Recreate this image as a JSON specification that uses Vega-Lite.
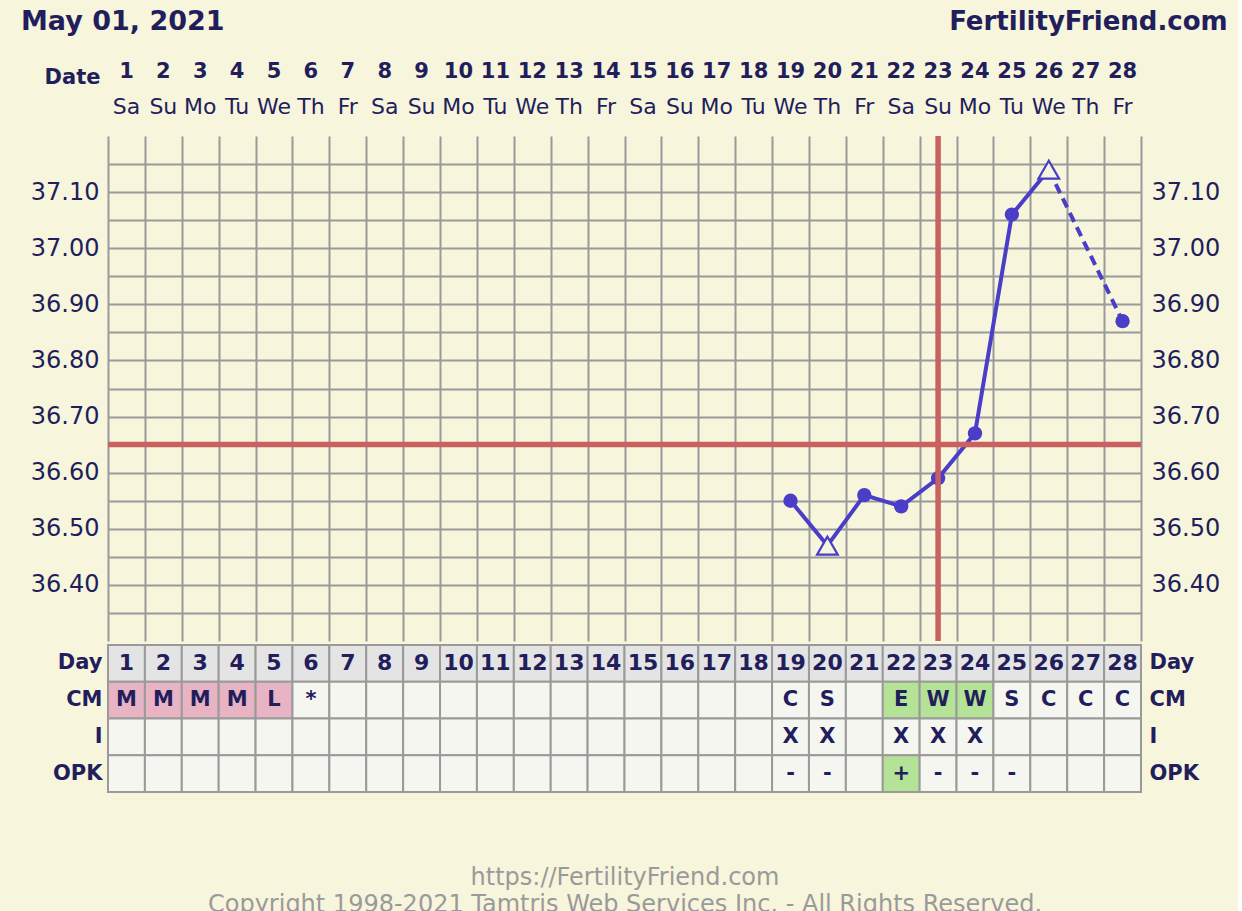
{
  "$schema": "https://vega.github.io/schema/vega-lite/v6.json",
  "background": "#f7f5dc",
  "padding": {"left": 20, "top": 8, "right": 10, "bottom": 0},
  "spacing": 0,
  "config": {"view": {"stroke": null}, "font": "DejaVu Sans", "concat": {"spacing": 0}},
  "datasets": {
    "days": [
      {"day": 1, "dow": "Sa", "temp": null, "open": false, "CM": "M", "I": "", "OPK": ""},
      {"day": 2, "dow": "Su", "temp": null, "open": false, "CM": "M", "I": "", "OPK": ""},
      {"day": 3, "dow": "Mo", "temp": null, "open": false, "CM": "M", "I": "", "OPK": ""},
      {"day": 4, "dow": "Tu", "temp": null, "open": false, "CM": "M", "I": "", "OPK": ""},
      {"day": 5, "dow": "We", "temp": null, "open": false, "CM": "L", "I": "", "OPK": ""},
      {"day": 6, "dow": "Th", "temp": null, "open": false, "CM": "*", "I": "", "OPK": ""},
      {"day": 7, "dow": "Fr", "temp": null, "open": false, "CM": "", "I": "", "OPK": ""},
      {"day": 8, "dow": "Sa", "temp": null, "open": false, "CM": "", "I": "", "OPK": ""},
      {"day": 9, "dow": "Su", "temp": null, "open": false, "CM": "", "I": "", "OPK": ""},
      {"day": 10, "dow": "Mo", "temp": null, "open": false, "CM": "", "I": "", "OPK": ""},
      {"day": 11, "dow": "Tu", "temp": null, "open": false, "CM": "", "I": "", "OPK": ""},
      {"day": 12, "dow": "We", "temp": null, "open": false, "CM": "", "I": "", "OPK": ""},
      {"day": 13, "dow": "Th", "temp": null, "open": false, "CM": "", "I": "", "OPK": ""},
      {"day": 14, "dow": "Fr", "temp": null, "open": false, "CM": "", "I": "", "OPK": ""},
      {"day": 15, "dow": "Sa", "temp": null, "open": false, "CM": "", "I": "", "OPK": ""},
      {"day": 16, "dow": "Su", "temp": null, "open": false, "CM": "", "I": "", "OPK": ""},
      {"day": 17, "dow": "Mo", "temp": null, "open": false, "CM": "", "I": "", "OPK": ""},
      {"day": 18, "dow": "Tu", "temp": null, "open": false, "CM": "", "I": "", "OPK": ""},
      {"day": 19, "dow": "We", "temp": 36.55, "open": false, "CM": "C", "I": "X", "OPK": "-"},
      {"day": 20, "dow": "Th", "temp": 36.47, "open": true, "CM": "S", "I": "X", "OPK": "-"},
      {"day": 21, "dow": "Fr", "temp": 36.56, "open": false, "CM": "", "I": "", "OPK": ""},
      {"day": 22, "dow": "Sa", "temp": 36.54, "open": false, "CM": "E", "I": "X", "OPK": "+"},
      {"day": 23, "dow": "Su", "temp": 36.59, "open": false, "CM": "W", "I": "X", "OPK": "-"},
      {"day": 24, "dow": "Mo", "temp": 36.67, "open": false, "CM": "W", "I": "X", "OPK": "-"},
      {"day": 25, "dow": "Tu", "temp": 37.06, "open": false, "CM": "S", "I": "", "OPK": "-"},
      {"day": 26, "dow": "We", "temp": 37.14, "open": true, "CM": "C", "I": "", "OPK": ""},
      {"day": 27, "dow": "Th", "temp": null, "open": false, "CM": "C", "I": "", "OPK": ""},
      {"day": 28, "dow": "Fr", "temp": 36.87, "open": false, "CM": "C", "I": "", "OPK": ""}
    ]
  },
  "vconcat": [
    {
      "width": 1033,
      "height": 108,
      "layer": [
        {
          "data": {"name": "days"},
          "mark": {"type": "text", "fontWeight": "bold", "fontSize": 21, "dy": -7, "color": "#221e5c"},
          "encoding": {
            "x": {"field": "day", "type": "quantitative", "scale": {"domain": [0.5, 28.5], "nice": false, "zero": false}, "axis": null},
            "y": {
              "datum": "date", "type": "nominal",
              "scale": {"domain": ["title", "date", "dow"], "paddingInner": 0, "paddingOuter": 0},
              "axis": {
                "title": null, "domain": false, "ticks": false,
                "labelExpr": "datum.value == 'date' ? 'Date' : ''",
                "labelFontWeight": "bold", "labelFontSize": 21, "labelColor": "#221e5c",
                "labelPadding": 8, "labelOffset": -2
              }
            },
            "text": {"field": "day"}
          }
        },
        {
          "data": {"name": "days"},
          "mark": {"type": "text", "fontSize": 22, "dy": -8, "color": "#221e5c"},
          "encoding": {
            "x": {"field": "day", "type": "quantitative", "axis": null},
            "y": {
              "datum": "dow", "type": "nominal",
              "axis": {
                "title": null, "domain": false, "ticks": false,
                "labelExpr": "datum.value == 'date' ? 'Date' : ''",
                "labelFontWeight": "bold", "labelFontSize": 21, "labelColor": "#221e5c",
                "labelPadding": 8, "labelOffset": -2
              }
            },
            "text": {"field": "dow"}
          }
        },
        {
          "data": {"values": [{"label": "May 01, 2021", "pos": -1.86}]},
          "mark": {"type": "text", "fontWeight": "bold", "fontSize": 27, "align": "left", "dy": -21, "color": "#221e5c"},
          "encoding": {
            "x": {"field": "pos", "type": "quantitative", "axis": null},
            "y": {
              "datum": "title", "type": "nominal",
              "axis": {
                "title": null, "domain": false, "ticks": false,
                "labelExpr": "datum.value == 'date' ? 'Date' : ''",
                "labelFontWeight": "bold", "labelFontSize": 21, "labelColor": "#221e5c",
                "labelPadding": 8, "labelOffset": -2
              }
            },
            "text": {"field": "label"}
          }
        },
        {
          "data": {"values": [{"label": "FertilityFriend.com", "pos": 30.85}]},
          "mark": {"type": "text", "fontWeight": "bold", "fontSize": 26, "align": "right", "dy": -21, "color": "#221e5c"},
          "encoding": {
            "x": {"field": "pos", "type": "quantitative", "axis": null},
            "y": {
              "datum": "title", "type": "nominal",
              "axis": {
                "title": null, "domain": false, "ticks": false,
                "labelExpr": "datum.value == 'date' ? 'Date' : ''",
                "labelFontWeight": "bold", "labelFontSize": 21, "labelColor": "#221e5c",
                "labelPadding": 8, "labelOffset": -2
              }
            },
            "text": {"field": "label"}
          }
        }
      ]
    },
    {
      "width": 1033,
      "height": 505,
      "resolve": {"axis": {"x": "shared", "y": "independent"}},
      "layer": [
        {
          "data": {"name": "days"},
          "transform": [{"filter": "datum.temp != null && datum.day <= 26"}],
          "mark": {"type": "line", "color": "#4a3dc8", "strokeWidth": 4},
          "encoding": {
            "x": {
              "field": "day", "type": "quantitative",
              "scale": {"domain": [0.5, 28.5], "nice": false, "zero": false},
              "axis": {
                "values": [0.5, 1.5, 2.5, 3.5, 4.5, 5.5, 6.5, 7.5, 8.5, 9.5, 10.5, 11.5, 12.5, 13.5, 14.5, 15.5, 16.5, 17.5, 18.5, 19.5, 20.5, 21.5, 22.5, 23.5, 24.5, 25.5, 26.5, 27.5, 28.5],
                "grid": true, "gridColor": "#9a9a9a", "gridWidth": 2, "gridOpacity": 1,
                "labels": false, "ticks": false, "domain": false, "title": null
              }
            },
            "y": {
              "field": "temp", "type": "quantitative",
              "scale": {"domain": [36.3, 37.2], "nice": false, "zero": false},
              "axis": {
                "orient": "left",
                "values": [36.35, 36.4, 36.45, 36.5, 36.55, 36.6, 36.65, 36.7, 36.75, 36.8, 36.85, 36.9, 36.95, 37.0, 37.05, 37.1, 37.15],
                "labelExpr": "abs(round(datum.value * 100)) % 10 == 0 && datum.value > 36.36 && datum.value < 37.14 ? format(datum.value, '.2f') : ''",
                "grid": true, "gridColor": "#9a9a9a", "gridWidth": 2, "gridOpacity": 1,
                "ticks": false, "domain": false, "title": null,
                "labelFontSize": 24, "labelColor": "#221e5c", "labelPadding": 9
              }
            }
          }
        },
        {
          "data": {"name": "days"},
          "transform": [{"filter": "datum.temp != null && datum.day >= 26"}],
          "mark": {"type": "line", "color": "#4a3dc8", "strokeWidth": 4, "strokeDash": [10, 6]},
          "encoding": {
            "x": {
              "field": "day", "type": "quantitative",
              "axis": {
                "values": [0.5, 1.5, 2.5, 3.5, 4.5, 5.5, 6.5, 7.5, 8.5, 9.5, 10.5, 11.5, 12.5, 13.5, 14.5, 15.5, 16.5, 17.5, 18.5, 19.5, 20.5, 21.5, 22.5, 23.5, 24.5, 25.5, 26.5, 27.5, 28.5],
                "grid": true, "gridColor": "#9a9a9a", "gridWidth": 2, "gridOpacity": 1,
                "labels": false, "ticks": false, "domain": false, "title": null
              }
            },
            "y": {"field": "temp", "type": "quantitative", "axis": null}
          }
        },
        {
          "data": {"name": "days"},
          "transform": [{"filter": "datum.temp != null && !datum.open"}],
          "mark": {"type": "circle", "color": "#4a3dc8", "size": 205, "opacity": 1},
          "encoding": {
            "x": {
              "field": "day", "type": "quantitative",
              "axis": {
                "values": [0.5, 1.5, 2.5, 3.5, 4.5, 5.5, 6.5, 7.5, 8.5, 9.5, 10.5, 11.5, 12.5, 13.5, 14.5, 15.5, 16.5, 17.5, 18.5, 19.5, 20.5, 21.5, 22.5, 23.5, 24.5, 25.5, 26.5, 27.5, 28.5],
                "grid": true, "gridColor": "#9a9a9a", "gridWidth": 2, "gridOpacity": 1,
                "labels": false, "ticks": false, "domain": false, "title": null
              }
            },
            "y": {
              "field": "temp", "type": "quantitative",
              "axis": {
                "orient": "right",
                "values": [36.35, 36.4, 36.45, 36.5, 36.55, 36.6, 36.65, 36.7, 36.75, 36.8, 36.85, 36.9, 36.95, 37.0, 37.05, 37.1, 37.15],
                "labelExpr": "abs(round(datum.value * 100)) % 10 == 0 && datum.value > 36.36 && datum.value < 37.14 ? format(datum.value, '.2f') : ''",
                "grid": false, "ticks": false, "domain": false, "title": null,
                "labelFontSize": 24, "labelColor": "#221e5c", "labelPadding": 10
              }
            }
          }
        },
        {
          "data": {"name": "days"},
          "transform": [{"filter": "datum.temp != null && datum.open"}],
          "mark": {"type": "point", "shape": "triangle-up", "size": 430, "filled": true, "fill": "#f7f5dc", "stroke": "#4a3dc8", "strokeWidth": 2.2, "opacity": 1},
          "encoding": {
            "x": {
              "field": "day", "type": "quantitative",
              "axis": {
                "values": [0.5, 1.5, 2.5, 3.5, 4.5, 5.5, 6.5, 7.5, 8.5, 9.5, 10.5, 11.5, 12.5, 13.5, 14.5, 15.5, 16.5, 17.5, 18.5, 19.5, 20.5, 21.5, 22.5, 23.5, 24.5, 25.5, 26.5, 27.5, 28.5],
                "grid": true, "gridColor": "#9a9a9a", "gridWidth": 2, "gridOpacity": 1,
                "labels": false, "ticks": false, "domain": false, "title": null
              }
            },
            "y": {"field": "temp", "type": "quantitative", "axis": null}
          }
        },
        {
          "data": {"values": [{"coverline": 36.65}]},
          "mark": {"type": "rule", "color": "#c8615f", "strokeWidth": 5.5},
          "encoding": {
            "y": {"field": "coverline", "type": "quantitative", "axis": null}
          }
        },
        {
          "data": {"values": [{"ovulation_day": 23}]},
          "mark": {"type": "rule", "color": "#c8615f", "strokeWidth": 5.5},
          "encoding": {
            "x": {
              "field": "ovulation_day", "type": "quantitative",
              "axis": {
                "values": [0.5, 1.5, 2.5, 3.5, 4.5, 5.5, 6.5, 7.5, 8.5, 9.5, 10.5, 11.5, 12.5, 13.5, 14.5, 15.5, 16.5, 17.5, 18.5, 19.5, 20.5, 21.5, 22.5, 23.5, 24.5, 25.5, 26.5, 27.5, 28.5],
                "grid": true, "gridColor": "#9a9a9a", "gridWidth": 2, "gridOpacity": 1,
                "labels": false, "ticks": false, "domain": false, "title": null
              }
            }
          }
        }
      ]
    },
    {
      "width": 1033,
      "height": 147,
      "data": {"name": "days"},
      "resolve": {"axis": {"x": "shared", "y": "independent"}},
      "layer": [
        {
          "mark": {"type": "rect", "fill": "#e4e4e4", "stroke": "#9a9a9a", "strokeWidth": 2},
          "encoding": {
            "x": {
              "field": "day", "type": "ordinal",
              "scale": {"paddingInner": 0, "paddingOuter": 0},
              "axis": {
                "labels": false, "ticks": false, "domain": false,
                "title": ["https://FertilityFriend.com", "Copyright 1998-2021 Tamtris Web Services Inc. - All Rights Reserved."],
                "titleFontSize": 24, "titleFontWeight": "normal", "titleColor": "#9a9a9a",
                "titleLineHeight": 27, "titlePadding": 73
              }
            },
            "y": {
              "datum": "Day", "type": "nominal",
              "scale": {"domain": ["Day", "CM", "I", "OPK"], "paddingInner": 0, "paddingOuter": 0},
              "axis": {
                "orient": "left", "title": null, "domain": false, "ticks": false,
                "labelFontWeight": "bold", "labelFontSize": 21, "labelColor": "#221e5c", "labelPadding": 6
              }
            }
          }
        },
        {
          "mark": {"type": "text", "fontWeight": "bold", "fontSize": 22, "color": "#221e5c"},
          "encoding": {
            "x": {
              "field": "day", "type": "ordinal",
              "axis": {
                "labels": false, "ticks": false, "domain": false,
                "title": ["https://FertilityFriend.com", "Copyright 1998-2021 Tamtris Web Services Inc. - All Rights Reserved."],
                "titleFontSize": 24, "titleFontWeight": "normal", "titleColor": "#9a9a9a",
                "titleLineHeight": 27, "titlePadding": 73
              }
            },
            "y": {"datum": "Day", "type": "nominal", "axis": null},
            "text": {"field": "day"}
          }
        },
        {
          "transform": [{"fold": ["CM", "I", "OPK"], "as": ["key", "val"]}],
          "mark": {"type": "rect", "stroke": "#9a9a9a", "strokeWidth": 2},
          "encoding": {
            "x": {
              "field": "day", "type": "ordinal",
              "axis": {
                "labels": false, "ticks": false, "domain": false,
                "title": ["https://FertilityFriend.com", "Copyright 1998-2021 Tamtris Web Services Inc. - All Rights Reserved."],
                "titleFontSize": 24, "titleFontWeight": "normal", "titleColor": "#9a9a9a",
                "titleLineHeight": 27, "titlePadding": 73
              }
            },
            "y": {
              "field": "key", "type": "nominal",
              "axis": {
                "orient": "right", "title": null, "domain": false, "ticks": false,
                "labelFontWeight": "bold", "labelFontSize": 21, "labelColor": "#221e5c", "labelPadding": 8
              }
            },
            "fill": {
              "condition": [
                {"test": "datum.val == 'M' || datum.val == 'L'", "value": "#e8b4c4"},
                {"test": "datum.val == 'E' || datum.val == 'W' || datum.val == '+'", "value": "#b4e296"}
              ],
              "value": "#f6f6f0"
            }
          }
        },
        {
          "transform": [{"fold": ["CM", "I", "OPK"], "as": ["key", "val"]}],
          "mark": {"type": "text", "fontWeight": "bold", "fontSize": 21, "color": "#221e5c"},
          "encoding": {
            "x": {
              "field": "day", "type": "ordinal",
              "axis": {
                "labels": false, "ticks": false, "domain": false,
                "title": ["https://FertilityFriend.com", "Copyright 1998-2021 Tamtris Web Services Inc. - All Rights Reserved."],
                "titleFontSize": 24, "titleFontWeight": "normal", "titleColor": "#9a9a9a",
                "titleLineHeight": 27, "titlePadding": 73
              }
            },
            "y": {"field": "key", "type": "nominal", "axis": null},
            "text": {"field": "val"}
          }
        }
      ]
    }
  ]
}
